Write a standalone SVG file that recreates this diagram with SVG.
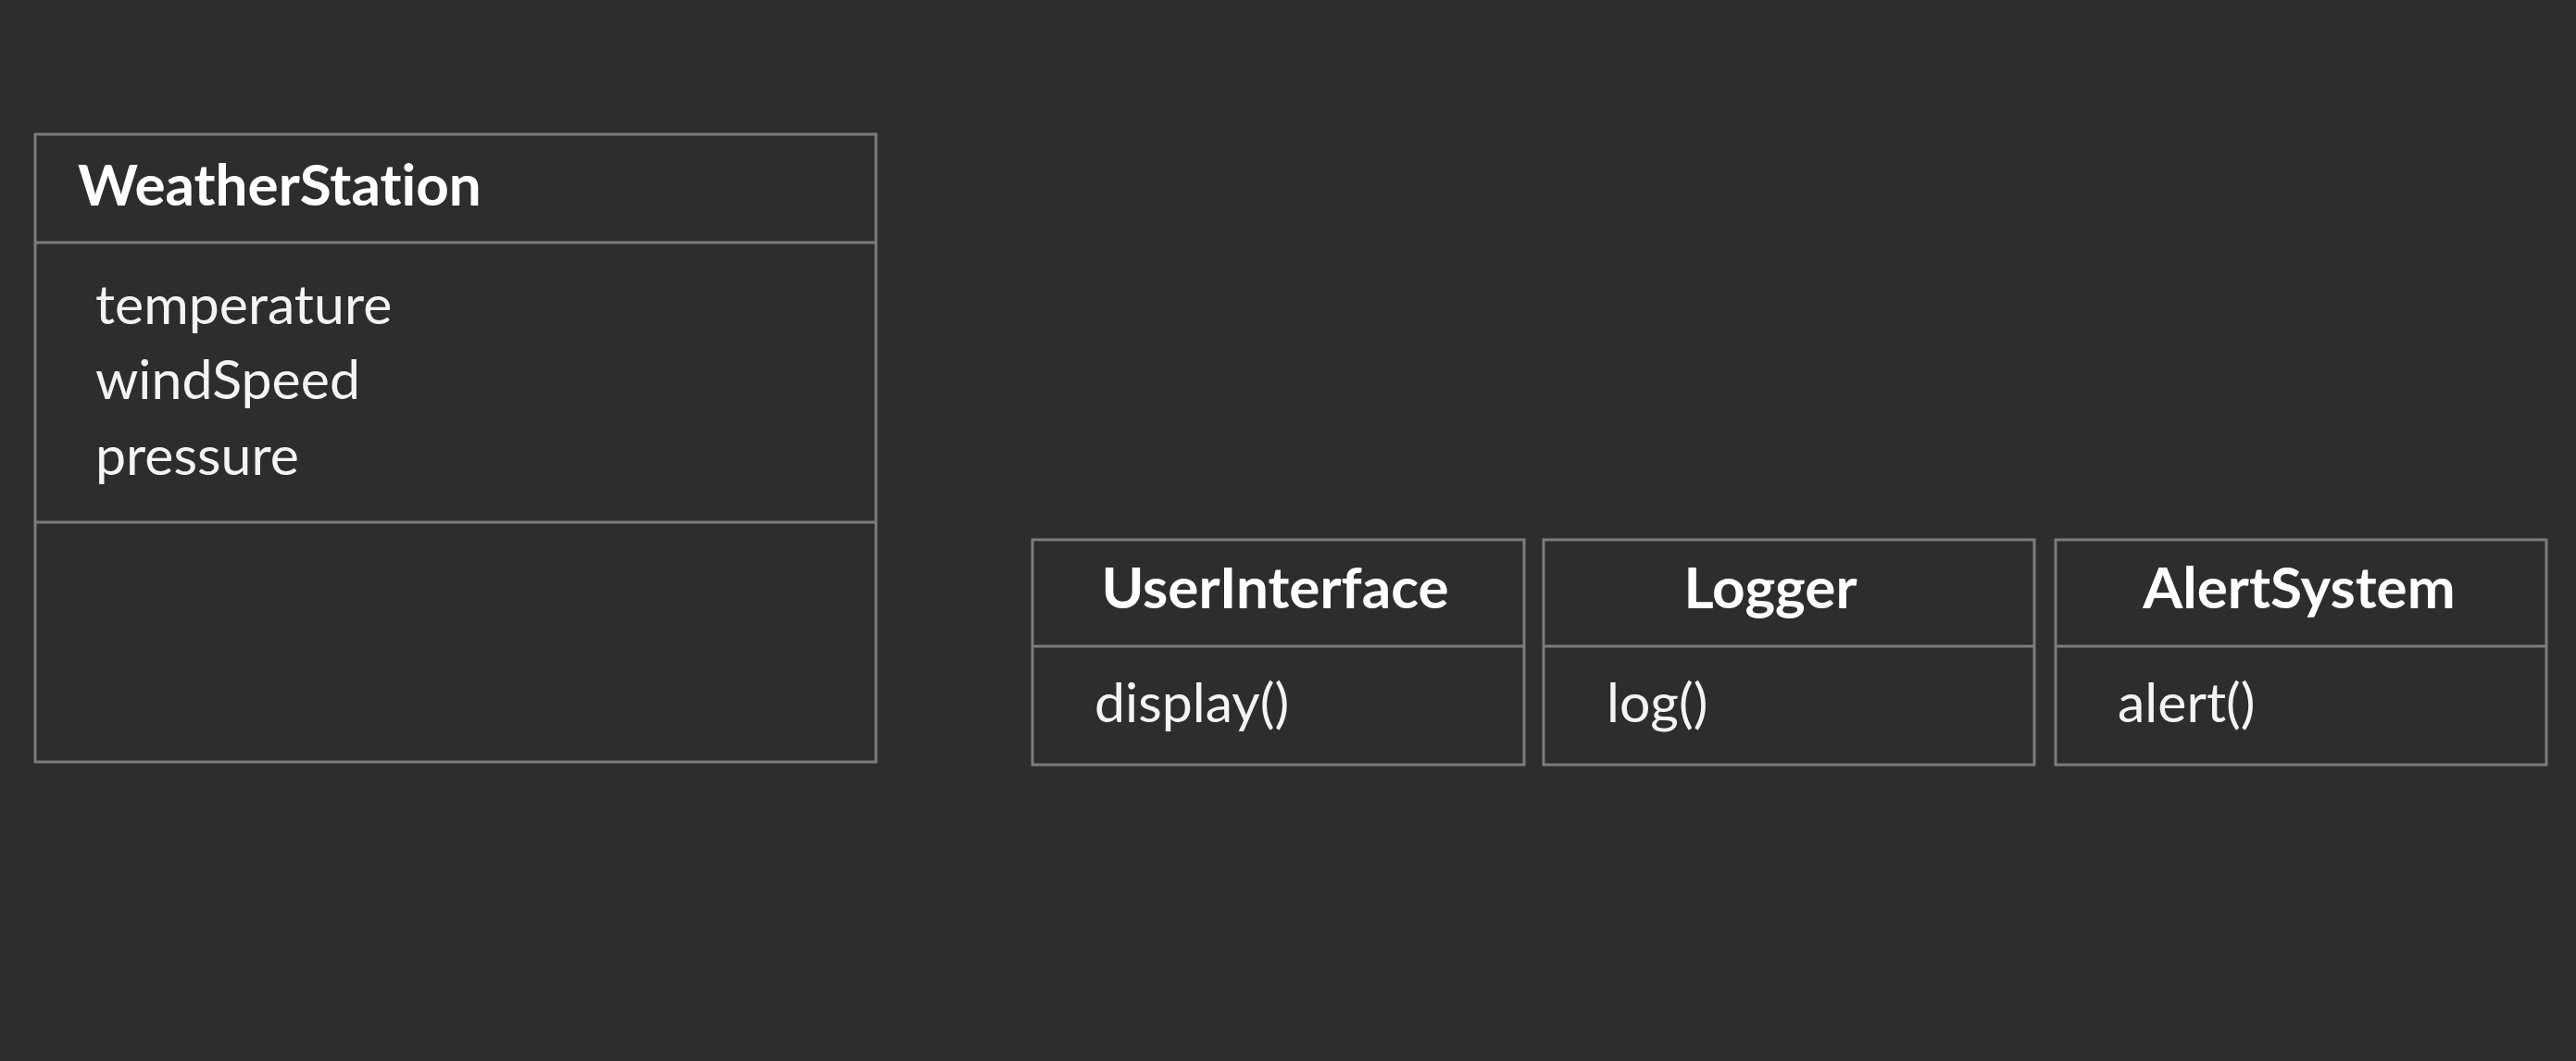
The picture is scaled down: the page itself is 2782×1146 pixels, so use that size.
<svg xmlns="http://www.w3.org/2000/svg" width="2782" height="1146" viewBox="0 0 2782 1146">
<style>
.box{fill:none;stroke:#7c7c7c;stroke-width:3}
.title{font-family:Lato,"Noto Sans",sans-serif;font-weight:700;font-size:62px;fill:#ffffff;font-variant-ligatures:none}
.item{font-family:Lato,"Noto Sans",sans-serif;font-weight:400;font-size:59px;fill:#f4f4f4;font-variant-ligatures:none}
</style>
<rect x="0" y="0" width="2782" height="1146" fill="#2d2d2d"/>
<g id="WeatherStation">
<rect class="box" x="38" y="145" width="908" height="678"/>
<line class="box" x1="38" y1="262" x2="946" y2="262"/>
<line class="box" x1="38" y1="564" x2="946" y2="564"/>
<text class="title" x="84" y="222">WeatherStation</text>
<text class="item" x="103" y="350">temperature</text>
<text class="item" x="103" y="431">windSpeed</text>
<text class="item" x="103" y="513">pressure</text>
</g>
<g id="UserInterface">
<rect class="box" x="1115" y="583" width="531" height="243"/>
<line class="box" x1="1115" y1="698" x2="1646" y2="698"/>
<text class="title" x="1377" y="657" text-anchor="middle">UserInterface</text>
<text class="item" x="1182" y="780">display()</text>
</g>
<g id="Logger">
<rect class="box" x="1667" y="583" width="530" height="243"/>
<line class="box" x1="1667" y1="698" x2="2197" y2="698"/>
<text class="title" x="1912" y="657" text-anchor="middle">Logger</text>
<text class="item" x="1735" y="780">log()</text>
</g>
<g id="AlertSystem">
<rect class="box" x="2220" y="583" width="530" height="243"/>
<line class="box" x1="2220" y1="698" x2="2750" y2="698"/>
<text class="title" x="2483" y="657" text-anchor="middle">AlertSystem</text>
<text class="item" x="2287" y="780">alert()</text>
</g>
<g id="connectors"></g>
</svg>
